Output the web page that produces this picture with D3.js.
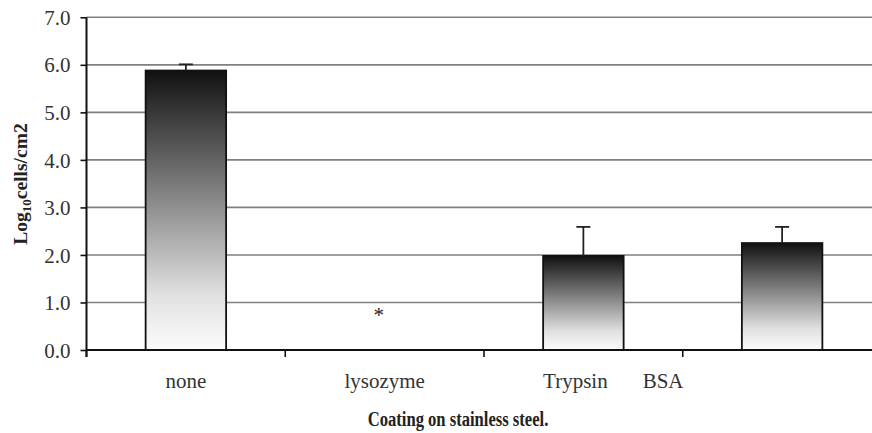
<!DOCTYPE html>
<html><head><meta charset="utf-8">
<script src="https://cdn.jsdelivr.net/npm/d3@7/dist/d3.min.js"></script>
<style>body{margin:0;background:#fff}svg{display:block}</style>
</head><body>
<script>
const categories = ["none", "lysozyme", "Trypsin", "BSA"];
const values = [5.88, null, 1.98, 2.25];
const errorTops = [6.01, null, 2.59, 2.59];
const yTicks = [0, 1, 2, 3, 4, 5, 6, 7];
const markers = ["", "*", "", ""];

const W = 872, H = 433;
const svg = d3.select("body").append("svg").attr("width", W).attr("height", H);
const serif = "'Liberation Serif','Times New Roman',serif";

const x0 = 86.5, x1 = 881.5;
const x = d3.scaleBand().domain(categories).range([x0, x1]).padding(0);
const y = d3.scaleLinear().domain([0, 7]).range([350, 17.3]);
const barW = x.bandwidth() * 0.405;

const defs = svg.append("defs");
const g = defs.append("linearGradient").attr("id", "grad").attr("x1", 0).attr("y1", 0).attr("x2", 0).attr("y2", 1);
g.append("stop").attr("offset", "0%").attr("stop-color", "#111");
g.append("stop").attr("offset", "45%").attr("stop-color", "#858585");
g.append("stop").attr("offset", "80%").attr("stop-color", "#e0e0e0");
g.append("stop").attr("offset", "100%").attr("stop-color", "#fcfcfc");

// gridlines
svg.append("g").selectAll("line").data(yTicks.filter(d => d > 0)).join("line")
  .attr("x1", x0).attr("x2", W).attr("y1", d => y(d)).attr("y2", d => y(d))
  .attr("stroke", "#808080").attr("stroke-width", 1.6);

// bars
const data = categories.map((c, i) => ({c, v: values[i], e: errorTops[i], m: markers[i]}));
const bars = data.filter(d => d.v != null);
svg.append("g").selectAll("rect").data(bars).join("rect")
  .attr("x", d => x(d.c) + x.bandwidth() / 2 - barW / 2)
  .attr("width", barW)
  .attr("y", d => y(d.v)).attr("height", d => y(0) - y(d.v))
  .attr("fill", "url(#grad)").attr("stroke", "#111").attr("stroke-width", 1.8);

// error bars
const eb = svg.append("g").attr("stroke", "#222").attr("stroke-width", 1.8);
eb.selectAll("line.v").data(bars).join("line").attr("class", "v")
  .attr("x1", d => x(d.c) + x.bandwidth() / 2).attr("x2", d => x(d.c) + x.bandwidth() / 2)
  .attr("y1", d => y(d.v)).attr("y2", d => y(d.e));
eb.selectAll("line.c").data(bars).join("line").attr("class", "c")
  .attr("x1", d => x(d.c) + x.bandwidth() / 2 - 7).attr("x2", d => x(d.c) + x.bandwidth() / 2 + 7)
  .attr("y1", d => y(d.e)).attr("y2", d => y(d.e));

// markers
svg.append("g").selectAll("text").data(data.filter(d => d.m)).join("text")
  .attr("x", d => x(d.c) + x.bandwidth() / 2 - 6).attr("y", y(0.6) + 1)
  .attr("text-anchor", "middle").attr("font-family", serif).attr("font-size", 21).attr("fill", "#222")
  .text(d => d.m);

// y axis
const yAxis = svg.append("g").attr("transform", `translate(${x0},0)`)
  .call(d3.axisLeft(y).tickValues(yTicks).tickFormat(d3.format(".1f")).tickSize(6).tickSizeOuter(0));
yAxis.select(".domain").attr("stroke", "#111").attr("stroke-width", 2).attr("d", `M0,${y(7)}V${y(0) + 7}`);
yAxis.selectAll(".tick line").attr("stroke", "#111").attr("stroke-width", 1.6);
yAxis.selectAll(".tick text").attr("font-family", serif).attr("font-size", 21).attr("fill", "#333")
  .attr("x", -16).attr("dy", "0.34em");

// x axis
const xAxis = svg.append("g").attr("transform", `translate(0,${y(0)})`)
  .call(d3.axisBottom(x).tickValues([]).tickSizeOuter(0));
xAxis.select(".domain").attr("stroke", "#111").attr("stroke-width", 2).attr("d", `M${x0},0H${W}`);
xAxis.selectAll("line.b").data(categories).join("line").attr("class", "b")
  .attr("x1", d => x(d)).attr("x2", d => x(d)).attr("y1", 0).attr("y2", 7)
  .attr("stroke", "#111").attr("stroke-width", 1.6);

// category labels (as placed in original)
const labelShift = {"Trypsin": -8, "BSA": -119};
svg.append("g").selectAll("text").data(categories).join("text")
  .attr("x", d => x(d) + x.bandwidth() / 2 + (labelShift[d] || 0))
  .attr("y", 388).attr("text-anchor", "middle")
  .attr("font-family", serif).attr("font-size", 21).attr("fill", "#333")
  .text(d => d);

// axis titles
svg.append("text").attr("transform", "translate(458,426) scale(0.83,1)").attr("text-anchor", "middle")
  .attr("font-family", serif).attr("font-size", 20).attr("font-weight", "bold").attr("fill", "#222")
  .text("Coating on stainless steel.");

const yt = svg.append("text").attr("transform", "translate(27,184) rotate(-90)")
  .attr("text-anchor", "middle").attr("font-family", serif).attr("font-size", 19.5)
  .attr("font-weight", "bold").attr("fill", "#222");
yt.append("tspan").text("Log");
yt.append("tspan").attr("font-size", 13).attr("dy", 4).text("10");
yt.append("tspan").attr("dy", -4).text("cells/cm2");
</script>
</body></html>
